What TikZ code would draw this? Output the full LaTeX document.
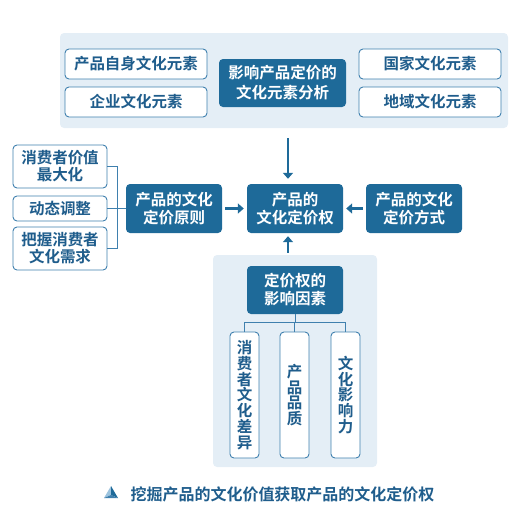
\documentclass[tikz,border=0pt]{standalone}
\usepackage{fontspec}
\setmainfont{Noto Sans CJK SC}[BoldFont={* Bold}]
\usetikzlibrary{arrows.meta}

\definecolor{darkblue}{HTML}{1E6A99}
\definecolor{textblue}{HTML}{1F5D8C}
\definecolor{lineblue}{HTML}{3F80AE}
\definecolor{panelblue}{HTML}{E4EEF6}
\definecolor{iconblue}{HTML}{9CC3DE}

\tikzstyle{panel}=[fill=panelblue,rounded corners=4pt,inner sep=0pt]
\tikzstyle{mainbox}=[fill=darkblue,text=white,rounded corners=4pt,align=center,inner sep=0pt,font=\bfseries\fontsize{15.5}{18}\selectfont]
\tikzstyle{item}=[draw=lineblue,fill=white,line width=0.9pt,rounded corners=4pt,align=center,inner sep=0pt,text=textblue,font=\bfseries\fontsize{15.5}{17}\selectfont]
\tikzstyle{upright}=[item,text width=15.5pt,minimum width=29,font=\bfseries\fontsize{15.5}{15.8}\selectfont]
\tikzstyle{link}=[draw=lineblue,line width=0.8pt]
\tikzstyle{arrow}=[draw=darkblue,line width=2.6pt,-{Triangle[length=6pt,width=10pt]}]

\begin{document}
\begin{tikzpicture}[x=1pt, y=-1pt]
    \useasboundingbox (0,0) rectangle (520,520);
    % First we draw the two panels
    \node[panel, minimum width=448, minimum height=95] (toppanel) at (284,80.5) {};
    \node[panel, minimum width=164, minimum height=212] (botpanel) at (295,361) {};

    % Elements of the top panel
    \foreach \pos/\name/\text in {{(136,64)/self/产品自身文化元素}, {(136,102)/firm/企业文化元素},
                                  {(430,64)/nation/国家文化元素}, {(430,102)/region/地域文化元素}}
        \node[item, minimum width=142, minimum height=30] (\name) at \pos {\text};
    \node[mainbox, minimum width=127, minimum height=48, font=\bfseries\fontsize{15.5}{20}\selectfont] (analysis) at (282.5,83) {影响产品定价的\\文化元素分析};

    % Middle row
    \foreach \pos/\name/\text in {{(174,208.5)/principle/产品的文化\\定价原则}, {(295,208.5)/right/产品的\\文化定价权},
                                  {(414,208.5)/method/产品的文化\\定价方式}}
        \node[mainbox, minimum width=96, minimum height=49] (\name) at \pos {\text};

    % Principles on the left
    \node[item, minimum width=94, minimum height=43] (value) at (60,166.5) {消费者价值\\最大化};
    \node[item, minimum width=94, minimum height=25] (adjust) at (60,208.5) {动态调整};
    \node[item, minimum width=94, minimum height=43] (demand) at (60,248.5) {把握消费者\\文化需求};
    \coordinate (bend) at (117,208.5);
    \foreach \source in {value, demand}
        \path[link] (\source.east) -| (bend);
    \path[link] (adjust.east) -- (principle.west);

    % Factors in the bottom panel
    \node[mainbox, minimum width=96, minimum height=48] (factor) at (295,290) {定价权的\\影响因素};
    \foreach \pos/\name/\text in {{(244.5,395)/gap/消\\费\\者\\文\\化\\差\\异}, {(294.5,395)/quality/产\\品\\品\\质},
                                  {(345.5,395)/influence/文\\化\\影\\响\\力}}
        \node[upright, minimum height=126] (\name) at \pos {\text};
    \coordinate (split) at (295,322);
    \path[link] (factor.south) -- (split);
    \foreach \dest in {gap, quality, influence}
        \path[link] (split) -| (\dest.north);

    % Arrows into the pricing right
    \path[arrow, shorten <=10pt, shorten >=5pt] ([xshift=-7pt]toppanel.south -| right.north) -- ([xshift=-7pt]right.north);
    \path[arrow, shorten <=3pt, shorten >=3pt] (principle) -- (right);
    \path[arrow, shorten <=3pt, shorten >=3pt] (method) -- (right);
    \path[arrow, shorten <=2pt, shorten >=3pt] ([xshift=-7pt]botpanel.north -| right.south) -- ([xshift=-7pt]right.south);

    % Caption
    \fill[iconblue] (104,498) -- (111,486) -- (111,495) -- cycle;
    \fill[darkblue] (111,486) -- (118,498) -- (111,495) -- cycle;
    \fill[lineblue] (104,498) -- (111,495) -- (118,498) -- cycle;
    \node[text=textblue, font=\bfseries\fontsize{16}{18}\selectfont] (caption) at (282.5,494.5) {挖掘产品的文化价值获取产品的文化定价权};
\end{tikzpicture}
\end{document}
